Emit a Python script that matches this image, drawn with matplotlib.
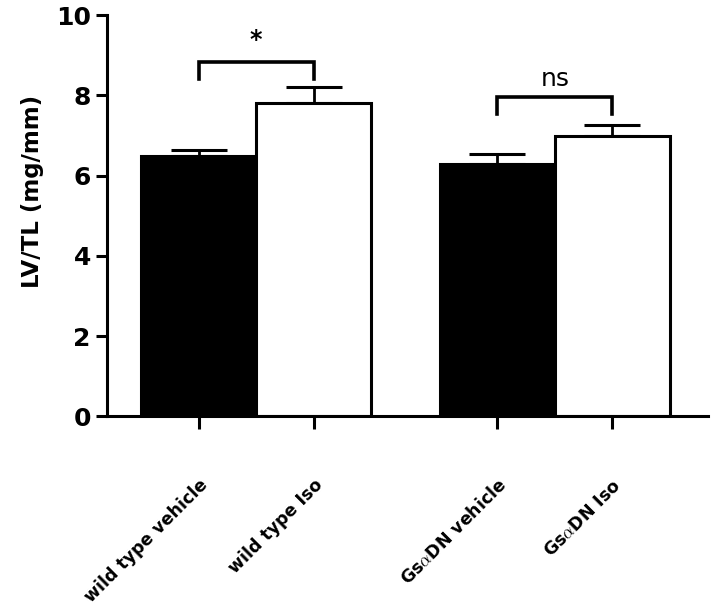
import matplotlib
matplotlib.use("Agg")
import matplotlib.pyplot as plt

plt.rcParams["font.family"] = ["DejaVu Sans"]
plt.rcParams["font.weight"] = "bold"
plt.rcParams["mathtext.fontset"] = "cm"

groups = ["wild type vehicle", "wild type Iso", r"Gs$\alpha$DN vehicle", r"Gs$\alpha$DN Iso"]
means = [6.5, 7.8, 6.3, 7.0]
sems = [0.15, 0.42, 0.25, 0.27]
colors = ["black", "white", "black", "white"]
positions = [0, 1, 2.6, 3.6]

# significance brackets: (left, right, y top, label)
brackets = [(0, 1, 8.83, "*"), (2.6, 3.6, 7.95, "ns")]


def main():
    fig = plt.figure(figsize=(7.12, 6.06), dpi=100)
    ax = fig.add_axes([0.150, 0.313, 0.844, 0.662])

    ax.bar(positions, means, width=1.0, color=colors, edgecolor="black",
           linewidth=2.2, zorder=2)
    ax.errorbar(positions, means, yerr=[[0] * 4, sems], fmt="none",
                ecolor="black", elinewidth=2.0, capsize=20, capthick=2.2,
                zorder=1)

    for x1, x2, y, label in brackets:
        ax.plot([x1, x1, x2, x2], [y - 0.42, y, y, y - 0.42], color="black",
                linewidth=2.6, solid_joinstyle="miter")
        if label == "*":
            ax.text((x1 + x2) / 2, y + 0.25, label, ha="center", va="bottom",
                    fontsize=17, fontweight="bold")
        else:
            ax.text((x1 + x2) / 2, y + 0.15, label, ha="center", va="bottom",
                    fontsize=18, fontweight="normal")

    ax.set_xlim(-0.8, 4.43)
    ax.set_ylim(0, 10)
    ax.set_yticks([0, 2, 4, 6, 8, 10])
    ax.tick_params(axis="y", labelsize=18, width=2.2, length=8)
    ax.tick_params(axis="x", width=2.2, length=9, pad=34)
    ax.set_xticks(positions)
    ax.set_xticklabels(groups, rotation=45, ha="right", rotation_mode="anchor",
                       fontsize=12.5, fontweight="bold")
    for lbl in ax.get_yticklabels():
        lbl.set_fontweight("bold")

    ax.set_ylabel("LV/TL (mg/mm)", fontsize=16.5, fontweight="bold")
    ax.yaxis.set_label_coords(-0.104, 0.56)

    ax.spines["top"].set_visible(False)
    ax.spines["right"].set_visible(False)
    ax.spines["left"].set_linewidth(2.2)
    ax.spines["bottom"].set_linewidth(2.2)

    fig.savefig("out.png", dpi=100)


if __name__ == "__main__":
    main()
